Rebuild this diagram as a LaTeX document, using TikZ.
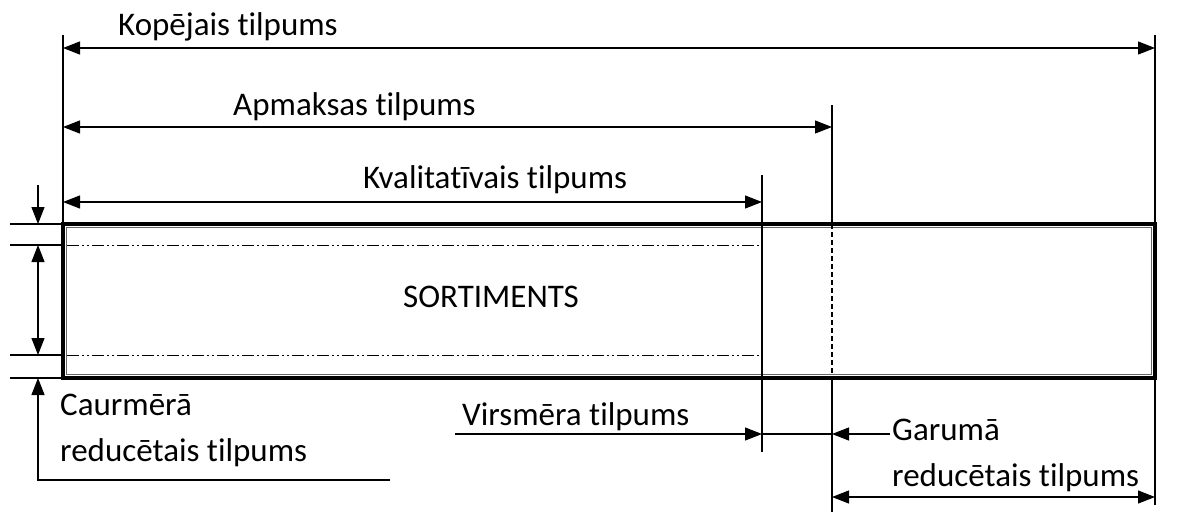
\documentclass[tikz,border=0pt]{standalone}
\usepackage{fontspec}
\setmainfont{Carlito}[Ligatures=NoCommon]
\usetikzlibrary{arrows.meta}
\begin{document}
\begin{tikzpicture}[x=1pt,y=-1pt,
  thin/.style={line width=1.1pt},
  ext/.style={line width=1.6pt},
  tip/.tip={Triangle[length=17pt,width=13pt]},
  dimboth/.style={thin,tip-tip},
  dimend/.style={thin,-tip},
  lbl/.style={font=\fontsize{33}{38}\selectfont, inner sep=0pt, anchor=base west},
  cl/.style={line width=0.8pt, dash pattern=on 12pt off 3pt on 2pt off 3pt on 2pt off 3pt}]
\useasboundingbox (0,0) rectangle (1192,515);
% box
\coordinate (tl) at (63,224);
\coordinate (br) at (1155,378);
\coordinate (tli) at (66.5,227.5);
\coordinate (bri) at (1151.5,374.5);
\draw[line width=3.5pt] (tl) rectangle (br);
\draw[line width=0.9pt, black!60] (tli) rectangle (bri);
% extension lines
\coordinate (l0) at (63,35);
\coordinate (r0) at (1155,35);
\coordinate (r1) at (1155,505);
\coordinate (a0) at (832,105);
\coordinate (a1) at (832,224);
\coordinate (a2) at (832,378);
\coordinate (a3) at (832,512);
\coordinate (k0) at (762,175);
\coordinate (k1) at (762,452);
\draw[ext] (l0) -- (tl);
\draw[thin] (r0) -- (r1);
\draw[thin] (a0) -- (a1);
\draw[thin,dash pattern=on 5pt off 3pt] (a1) -- (a2);
\draw[thin] (a2) -- (a3);
\draw[ext] (k0) -- (k1);
% centre lines
\draw[cl] (67,245) -- (762,245);
\draw[cl] (67,355) -- (762,355);
% top dimensions
\coordinate (kl) at (63,48); \coordinate (kr) at (1155,48);
\draw[dimboth] (kl) -- (kr);
\node[lbl] (tKop) at (118,35) {Kopējais tilpums};
\coordinate (pl) at (63,127); \coordinate (pr) at (832,127);
\draw[dimboth] (pl) -- (pr);
\node[lbl] (tApm) at (233,115) {Apmaksas tilpums};
\coordinate (ql) at (63,202); \coordinate (qr) at (762,202);
\draw[dimboth] (ql) -- (qr);
\node[lbl] (tKva) at (363,188) {Kvalitatīvais tilpums};
% SORTIMENTS
\node[lbl] (tSor) at (403,307) {SORTIMENTS};
% left dimension
\foreach \yy/\nm in {224/h1,245/h2,355/h3,378/h4}{
  \coordinate (\nm a) at (10,\yy); \coordinate (\nm b) at (63,\yy);
  \draw[thin] (\nm a) -- (\nm b);
}
\coordinate (v0) at (38,185); \coordinate (v1) at (38,224);
\coordinate (v2) at (38,245); \coordinate (v3) at (38,355);
\coordinate (v4) at (38,378); \coordinate (v5) at (38,480);
\coordinate (v6) at (390,480);
\draw[dimend] (v0) -- (v1);
\draw[dimboth] (v2) -- (v3);
\draw[thin,tip-] (v4) -- (v5) -- (v6);
\node[lbl] (tCau1) at (60,415) {Caurmērā};
\node[lbl] (tCau2) at (60,461) {reducētais tilpums};
% bottom dimensions
\node[lbl] (tVir) at (462,425) {Virsmēra tilpums};
\coordinate (s0) at (455,434); \coordinate (s1) at (762,434);
\coordinate (s2) at (832,434); \coordinate (s3) at (890,434);
\draw[dimend] (s0) -- (s1);
\draw[thin] (s1) -- (s2);
\draw[dimend] (s3) -- (s2);
\node[lbl] (tGar1) at (892,440) {Garumā};
\node[lbl] (tGar2) at (892,486) {reducētais tilpums};
\coordinate (g0) at (832,497); \coordinate (g1) at (1155,497);
\draw[dimboth] (g0) -- (g1);
\end{tikzpicture}
\end{document}
